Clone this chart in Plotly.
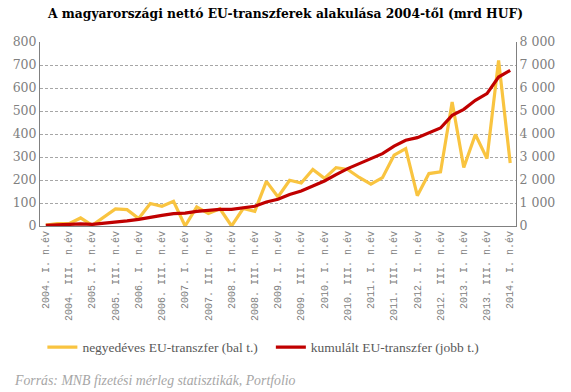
import plotly.graph_objects as go

roman = ["I.", "II.", "III.", "IV."]
quarters = [f"{y}. {r} n.év" for y in range(2004, 2014) for r in roman] + ["2014. I. n.év"]

quarterly = [4, 10, 10, 35, 3, 39, 74, 71, 33, 98, 86, 107, 0, 83, 54, 75, 0, 76, 64, 194,
             126, 199, 187, 246, 207, 254, 246, 211, 182, 210, 308, 336, 132, 228, 235, 539,
             254, 398, 293, 720, 274]
cumulative = [25, 40, 55, 90, 70, 110, 165, 225, 290, 390, 460, 540, 560, 635, 685, 725,
              725, 800, 860, 1045, 1160, 1370, 1522, 1739, 1957, 2235, 2496, 2713, 2913, 3148,
              3470, 3726, 3843, 4043, 4261, 4813, 5074, 5465, 5757, 6478, 6770]

left_ticks = [0, 100, 200, 300, 400, 500, 600, 700, 800]
right_ticks = [0, 1000, 2000, 3000, 4000, 5000, 6000, 7000, 8000]

SERIF = "Liberation Serif, DejaVu Serif, serif"
DSERIF = "DejaVu Serif, serif"
MONO = "Liberation Mono, DejaVu Sans Mono, monospace"
GRAY = "#808080"

xi = list(range(len(quarters)))

fig = go.Figure()
fig.add_trace(go.Scatter(x=xi, y=quarterly, mode="lines", name="negyedéves EU-transzfer (bal t.)",
                         line=dict(color="#F9C440", width=3.2), legend="legend"))
fig.add_trace(go.Scatter(x=xi, y=cumulative, mode="lines", name="kumulált EU-transzfer (jobb t.)",
                         yaxis="y2", line=dict(color="#C00000", width=3.2), legend="legend2"))

legend_font = dict(size=13.5, color="#595959", family=SERIF)

fig.update_layout(
    width=571, height=392,
    margin=dict(l=40, r=55, t=42, b=166, autoexpand=False),
    paper_bgcolor="white", plot_bgcolor="white",
    separators=", ",
    font=dict(family=SERIF, color=GRAY, size=12),
    title=dict(text="<b>A magyarországi nettó EU-transzferek alakulása 2004-től (mrd HUF)</b>",
               x=0.5, xanchor="center", y=0.964, yanchor="middle",
               font=dict(family=DSERIF, size=12.3, color="black")),
    xaxis=dict(range=[-0.5, len(quarters) - 0.5], tickmode="array",
               tickvals=xi[::2], ticktext=quarters[::2], tickangle=-90,
               tickfont=dict(size=10, color=GRAY, family=MONO),
               showgrid=False, zeroline=False, showline=True, linecolor="#808080", linewidth=1,
               ticks=""),
    yaxis=dict(range=[0, 800], tickvals=left_ticks, showgrid=True, gridcolor="#A6A6A6",
               griddash="3px,2px", gridwidth=1, zeroline=False, showline=True,
               linecolor="#808080", linewidth=1, ticks="",
               tickfont=dict(size=12.5, color=GRAY, family=DSERIF)),
    yaxis2=dict(range=[0, 8000], tickvals=right_ticks, tickformat=",d", overlaying="y",
                side="right", showgrid=False, zeroline=False, showline=True,
                linecolor="#808080", linewidth=1, ticks="",
                tickfont=dict(size=12.5, color=GRAY, family=DSERIF)),
    showlegend=True,
    legend=dict(orientation="h", x=0.005, y=-0.66, xanchor="left", yanchor="middle",
                font=legend_font, itemwidth=30, bgcolor="rgba(0,0,0,0)"),
    legend2=dict(orientation="h", x=0.485, y=-0.66, xanchor="left", yanchor="middle",
                 font=legend_font, itemwidth=30, bgcolor="rgba(0,0,0,0)"),
    annotations=[dict(text="<i>Forrás: MNB fizetési mérleg statisztikák, Portfolio</i>",
                      xref="paper", yref="paper", x=-0.059, y=-0.84, xanchor="left",
                      yanchor="middle", showarrow=False,
                      font=dict(size=13.8, color="#A6A6A6", family=SERIF))],
)

fig.write_html("out.html", config={"displayModeBar": False},
               post_script="document.body.style.margin='0';")
